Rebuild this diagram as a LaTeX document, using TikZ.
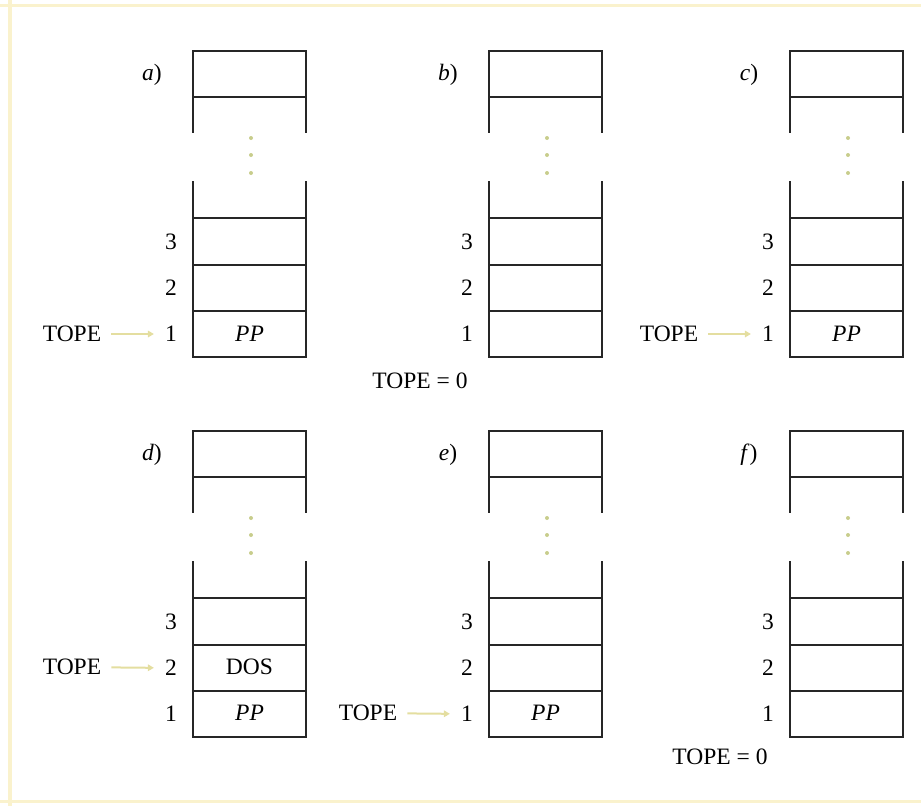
\documentclass[tikz,border=0pt]{standalone}
\usepackage{fontspec}
\setmainfont{Liberation Serif}
\usetikzlibrary{arrows.meta}
\definecolor{faint}{RGB}{228,222,160}
\definecolor{dotc}{RGB}{200,205,140}
\definecolor{edgec}{RGB}{250,242,205}
\tikzset{
  stk/.style={line width=1.1pt, black!85},
  lbl/.style={font=\fontsize{23.5}{27}\selectfont, inner sep=0pt, text height=15.5pt, text depth=0pt},
  ptr/.style={faint, line width=2pt, -{Triangle[length=6pt,width=6.5pt]}, shorten <=10pt, shorten >=11pt},
}
\newcommand\drawstack[3]{%
  \draw[stk] (#1,#2) rectangle ({#1+113},{#2+46});
  \draw[stk] (#1,{#2+46}) -- (#1,{#2+82});
  \draw[stk] ({#1+113},{#2+46}) -- ({#1+113},{#2+82});
  \draw[stk] (#1,{#2+167}) rectangle ({#1+113},{#2+306});
  \draw[stk] (#1,{#2+130}) -- (#1,{#2+167});
  \draw[stk] ({#1+113},{#2+130}) -- ({#1+113},{#2+167});
  \draw[stk] (#1,{#2+214}) -- ({#1+113},{#2+214});
  \draw[stk] (#1,{#2+260}) -- ({#1+113},{#2+260});
  \fill[dotc] ({#1+58},{#2+87}) circle (2);
  \fill[dotc] ({#1+58},{#2+104}) circle (2);
  \fill[dotc] ({#1+58},{#2+122}) circle (2);
  \node[lbl] (#3-let) at ({#1-41},{#2+22}) {\textit{#3})};
  \node[lbl] (#3-n3) at ({#1-22},{#2+191}) {3};
  \node[lbl] (#3-n2) at ({#1-22},{#2+237}) {2};
  \node[lbl] (#3-n1) at ({#1-22},{#2+283}) {1};
}
\begin{document}
\begin{tikzpicture}[x=1pt,y=-1pt]
  \useasboundingbox (0,0) rectangle (921,806);
  % faint scan frame
  \draw[edgec, line width=4pt] (10,0) -- (10,806);
  \draw[edgec, line width=3pt] (0,5) -- (921,5);
  \draw[edgec, line width=3pt] (0,801) -- (921,801);

  \drawstack{193}{51}{a}
  \drawstack{489}{51}{b}
  \drawstack{790}{51}{c}
  \drawstack{193}{431}{d}
  \drawstack{489}{431}{e}
  \drawstack{790}{431}{f}

  % a
  \node[lbl] (a-pp) at (249.5,334) {\textit{PP}};
  \node[lbl] (a-tope) at (72,334) {TOPE};
  \draw[ptr] (a-tope) -- (a-n1);
  % b
  \node[lbl] (b-tope) at (420,381) {TOPE = 0};
  % c
  \node[lbl] (c-pp) at (846.5,334) {\textit{PP}};
  \node[lbl] (c-tope) at (669,334) {TOPE};
  \draw[ptr] (c-tope) -- (c-n1);
  % d
  \node[lbl] (d-dos) at (249.5,667) {DOS};
  \node[lbl] (d-pp) at (249.5,713) {\textit{PP}};
  \node[lbl] (d-tope) at (72,667) {TOPE};
  \draw[ptr] (d-tope) -- (d-n2);
  % e
  \node[lbl] (e-pp) at (545.5,713) {\textit{PP}};
  \node[lbl] (e-tope) at (368,713) {TOPE};
  \draw[ptr] (e-tope) -- (e-n1);
  % f
  \node[lbl] (f-tope) at (720,757) {TOPE = 0};
\end{tikzpicture}
\end{document}
